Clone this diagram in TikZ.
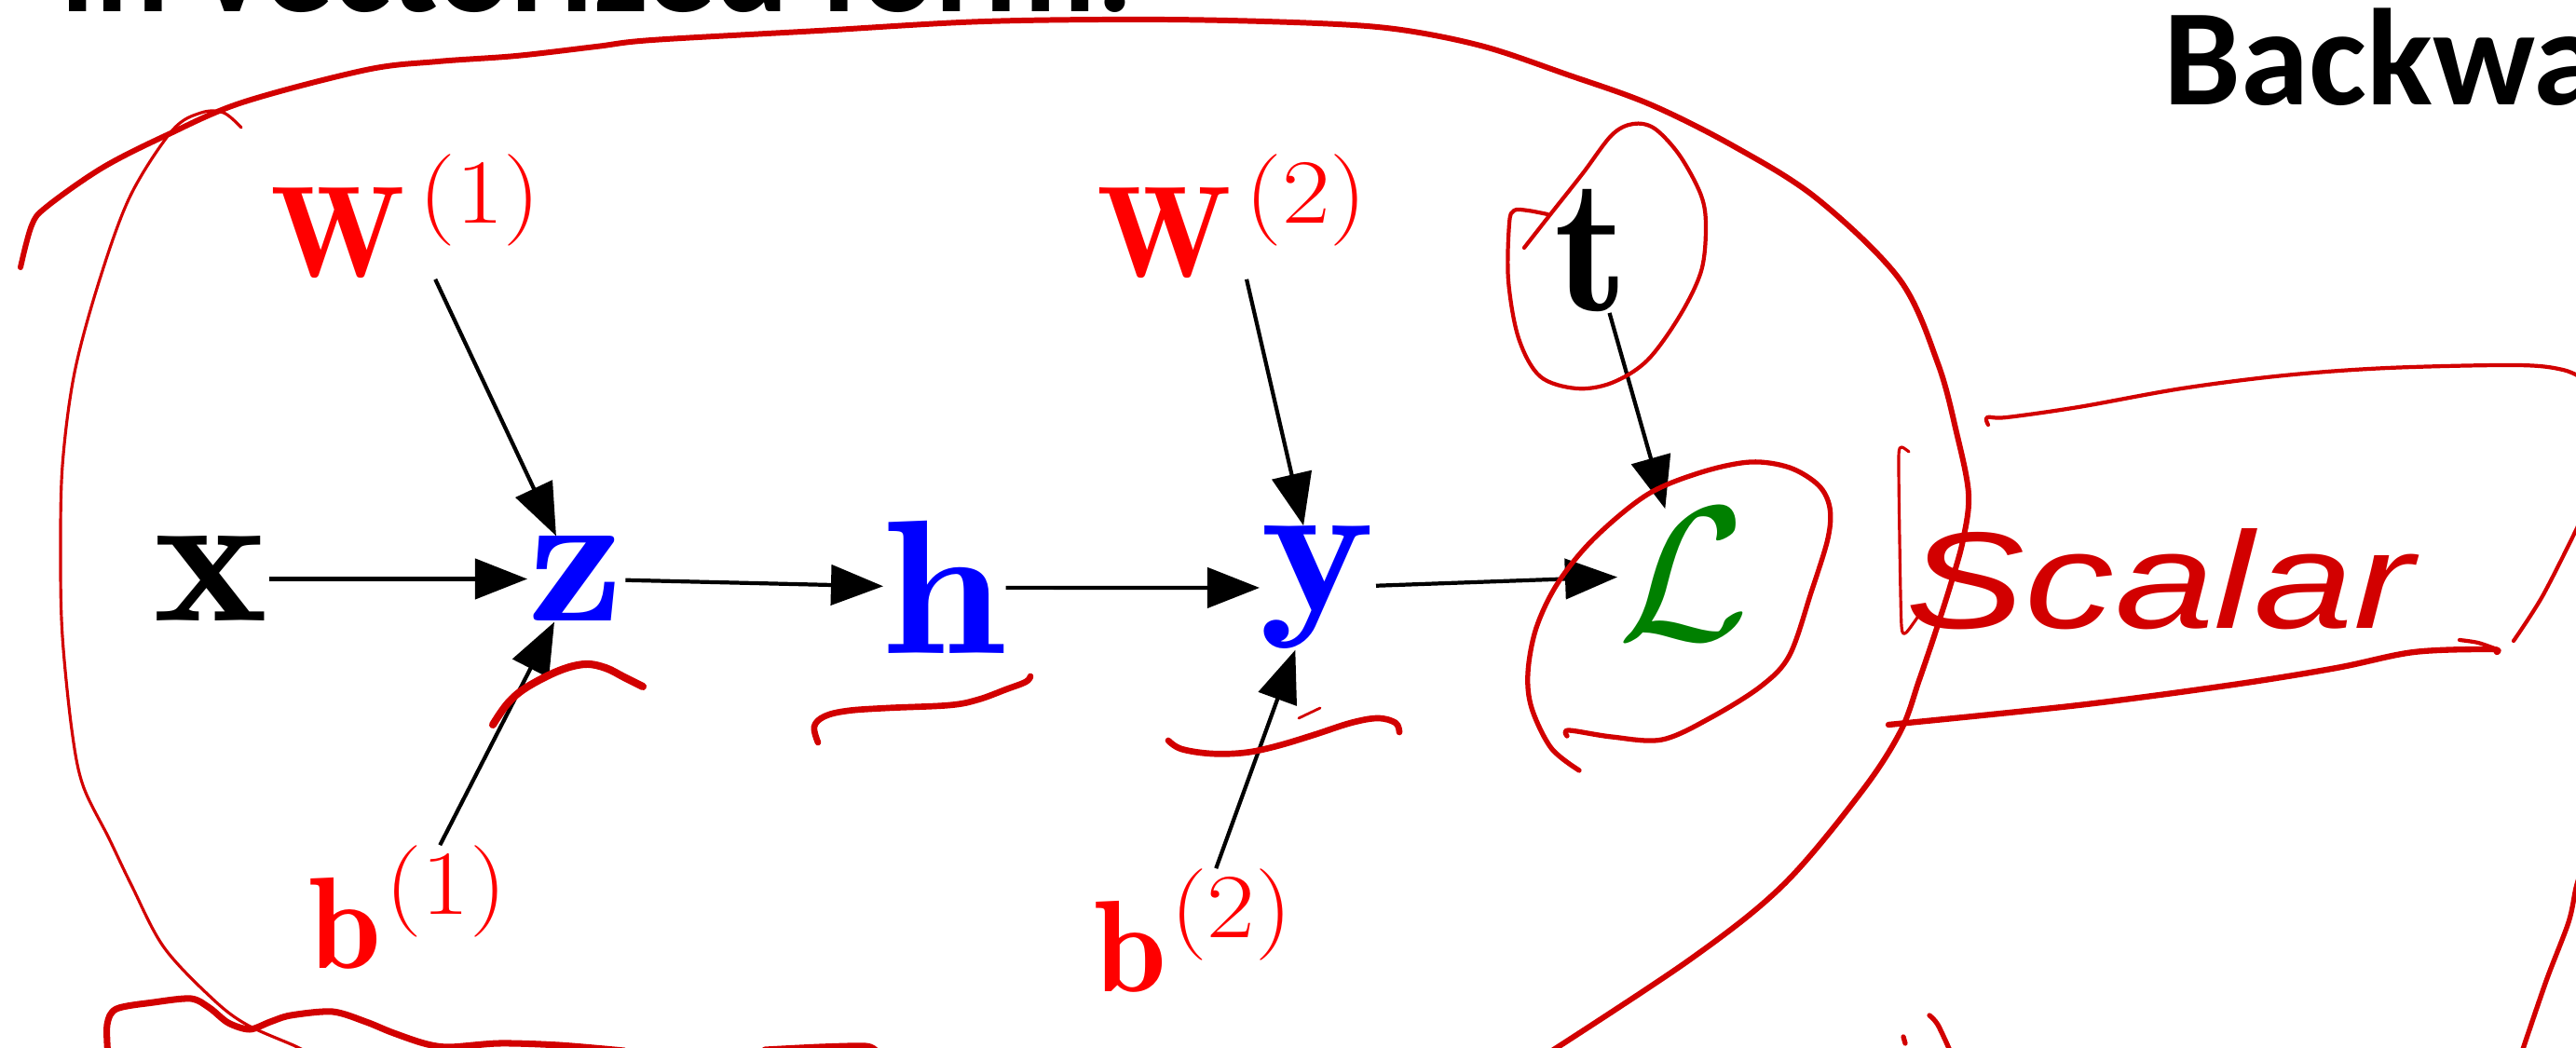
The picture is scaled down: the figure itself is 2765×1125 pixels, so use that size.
\RequirePackage{fix-cm}
\documentclass[tikz,border=0pt]{standalone}
\usepackage{fontspec}
\newfontfamily\carl{Carlito}
\newfontfamily\hand{Liberation Sans}
\usetikzlibrary{arrows.meta}
\definecolor{ink}{RGB}{210,0,0}
\definecolor{mred}{RGB}{255,0,0}
\definecolor{mblue}{RGB}{0,0,255}
\definecolor{mgreen}{RGB}{0,128,0}
% superscript "(n)" set by hand: gap, raise, slight widening
\newcommand\suplbl[2]{\hspace{#1}\raisebox{16.6pt}{\scalebox{1.14}[1]{\fontsize{28}{30}\selectfont(#2)}}}
\tikzset{
  bigsym/.style={inner sep=0pt, anchor=base west, font=\fontsize{58.3}{70}\selectfont},
  wide/.style={xscale=1.14},
  smallsym/.style={inner sep=0pt, anchor=base west, font=\fontsize{39.8}{48}\selectfont, text=mred},
  arr/.style={-{Triangle[length=0.56cm,width=0.43cm]}, line width=1.2pt},
  pen/.style={draw=ink, line cap=round, line join=round},
  head/.style={inner sep=0pt, anchor=base west, font=\carl\bfseries\fontsize{42}{50}\selectfont},
}
\begin{document}
\begin{tikzpicture}[x=0.01cm, y=-0.01cm]
\useasboundingbox (0,0) rectangle (2765,1125);
\clip (0,0) rectangle (2765,1125);

% headings (cut by the page edge)
\node[head] (title) at (65,13) {in vectorized form:};
\node[head] (bw) at (2322,113) {Backwa};

% graph nodes
\node[bigsym, wide] (nx) at (164,667) {$\mathbf{x}$};
\node[bigsym, wide, text=mblue] (nz) at (566,667) {$\mathbf{z}$};
\node[bigsym, wide, text=mblue] (nh) at (948,702) {$\mathbf{h}$};
\node[bigsym, wide, text=mblue] (ny) at (1352,656) {$\mathbf{y}$};
\node[bigsym, text=mgreen] (nL) at (1736,687) {$\mathcal{L}$};
\node[bigsym] (nt) at (1668,334) {$\mathbf{t}$};
\node[smallsym] (W1) at (290,298) {$\mathbf{W}$\suplbl{4pt}{1}};
\node[smallsym] (W2) at (1177,298) {$\mathbf{W}$\suplbl{4pt}{2}};
\node[smallsym] (b1) at (331,1040) {$\mathbf{b}$\suplbl{1pt}{1}};
\node[smallsym] (b2) at (1174,1065) {$\mathbf{b}$\suplbl{1pt}{2}};

% connectors
\draw[arr] (nx) -- (nz);
\draw[arr] (W1) -- (nz);
\draw[arr] (b1) -- (nz);
\draw[arr] (nz) -- (nh);
\draw[arr] (nh) -- (ny);
\draw[arr] (W2) -- (ny);
\draw[arr] (b2) -- (ny);
\draw[arr] (ny) -- (nL);
\draw[arr] (nt) -- (nL);

% handwritten annotations
% big loop
\draw[pen, line width=1.7pt] plot[smooth, tension=0.55] coordinates {
 (22,287) (34,242) (50,222) (110,180) (179,145) (260,110) (393,75) (470,66)
 (554,60) (640,50) (700,43) (879,33) (1057,23) (1250,21) (1414,25) (1504,32)
 (1593,50) (1682,80) (1771,112) (1861,157) (1950,213) (2039,300) (2080,390)
 (2100,464) (2113,530)
 (2107,580) (2093,630) (2077,680) (2060,730) (2040,785) (1998,850) (1914,950)
 (1814,1030) (1655,1135)};
% left side stroke
\draw[pen, line width=0.9pt] plot[smooth, tension=0.55] coordinates {
 (259,137) (240,121) (216,121) (185,140) (140,210) (107,300) (80,400) (67,500)
 (65,600) (67,683) (77,783) (89,843) (117,900) (141,950) (176,1017) (229,1073)
 (265,1100) (317,1123) (340,1135)};
% bottom wave (cut)
\draw[pen, line width=2pt] plot[smooth, tension=0.5] coordinates {
 (116,1135) (115,1100) (125,1083) (165,1076) (205,1072) (225,1082) (245,1098)
 (268,1105) (290,1097) (312,1090) (357,1086) (393,1097) (420,1108) (455,1120)
 (482,1124) (536,1120) (600,1122) (670,1128)};
\draw[pen, line width=2pt] plot[smooth] coordinates {(821,1127) (880,1124) (929,1123) (940,1128)};
% underlines
\draw[pen, line width=2.3pt] plot[smooth, tension=0.6] coordinates {
 (529,778) (545,755) (565,738) (600,720) (628,713) (650,717) (670,727) (690,737)};
\draw[pen, line width=1.9pt] plot[smooth, tension=0.6] coordinates {
 (878,797) (874,780) (885,769) (910,763) (953,760) (1019,757) (1050,751)
 (1080,740) (1101,732) (1106,726)};
\draw[pen, line width=1.9pt] plot[smooth, tension=0.6] coordinates {
 (1254,795) (1268,804) (1300,809) (1336,808) (1370,801) (1410,789) (1450,776)
 (1479,771) (1498,776) (1502,786)};
\draw[pen, line width=0.8pt] (1394,771) -- (1417,760);
% loop around t
\draw[pen, line width=1.2pt] plot[smooth, tension=0.55] coordinates {
 (1636,266) (1665,229) (1699,186) (1730,145) (1753,133) (1776,138) (1803,167)
 (1826,210) (1831,244) (1826,291) (1803,339) (1768,387) (1730,411) (1692,417)
 (1653,404) (1630,363) (1619,301) (1620,240) (1625,226) (1640,226) (1661,230)};
% loop around L
\draw[pen, line width=1.5pt] plot[smooth, tension=0.55] coordinates {
 (1695,827) (1665,803) (1644,760) (1640,722) (1649,674) (1672,626) (1711,578)
 (1768,531) (1826,507) (1879,496) (1921,502) (1952,521) (1964,545) (1962,578)
 (1944,636) (1921,703) (1891,736) (1837,770) (1784,794) (1730,791) (1684,784)
 (1682,790)};
% scalar box
\draw[pen, line width=1.2pt] plot[smooth, tension=0.55] coordinates {
 (2134,456) (2133,448) (2154,448) (2231,437) (2342,417) (2452,403) (2563,395)
 (2701,392) (2751,397) (2775,408)};
\draw[pen, line width=1.8pt] plot[smooth, tension=0.55] coordinates {
 (2027,778) (2231,757) (2397,735) (2508,717) (2591,700) (2673,697) (2680,700)};
\draw[pen, line width=1.2pt] plot[smooth] coordinates {(2640,687) (2660,690) (2680,697)};
\draw[pen, line width=1.2pt] plot[smooth] coordinates {(2775,545) (2766,567) (2729,640) (2698,688)};
\draw[pen, line width=1.5pt] plot[smooth] coordinates {(2772,930) (2765,953) (2757,990) (2733,1053) (2705,1135)};
\draw[pen, line width=0.9pt] plot[smooth, tension=0.4] coordinates {
 (2049,485) (2041,480) (2038,490) (2039,580) (2041,672) (2046,679) (2060,660)};
\draw[pen, line width=1.5pt] plot[smooth] coordinates {(2071,1090) (2080,1100) (2094,1130)};
\draw[pen, line width=1.5pt] (2043,1113) -- (2045,1120);
\node[inner sep=0pt, anchor=base west, text=ink, xscale=1.3,
      font=\hand\itshape\fontsize{42}{50}\selectfont] (sc) at (2045,675) {Scalar};
\end{tikzpicture}
\end{document}
